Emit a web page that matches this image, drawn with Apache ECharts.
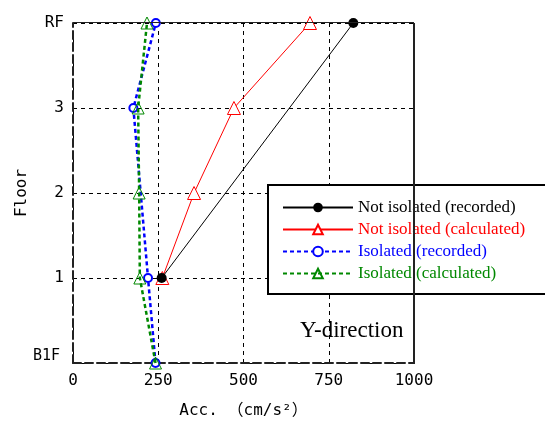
<!DOCTYPE html>
<html>
<head>
<meta charset="utf-8">
<script src="https://cdn.jsdelivr.net/npm/echarts@6/dist/echarts.min.js"></script>
<style>
  html, body { margin: 0; padding: 0; background: #fff; }
  #main { width: 545px; height: 426px; }
</style>
</head>
<body>
<div id="main"></div>
<script>
// floors, bottom to top
var floorLabels = ['B1F', '1', '2', '3', 'RF'];
// acceleration (cm/s2) per floor, null = not plotted
var notIsoRecorded = [null, 260, null, null, 822];
var notIsoCalculated = [null, 262, 355, 472, 695];
var isoRecorded = [242, 220, null, 177, 243];
var isoCalculated = [242, 196, 194, 191, 217];
var xTicks = [0, 250, 500, 750, 1000];

function pairs(vals) {
    var out = [];
    for (var i = 0; i < vals.length; i++) {
        if (vals[i] !== null) out.push([vals[i], i]);
    }
    return out;
}

var mycharts = echarts.init(document.getElementById('main'));
var gothic = '"DejaVu Sans Mono", "Noto Sans CJK JP", monospace';
var serif = '"Liberation Serif", "Times New Roman", serif';

var option = {
    animation: false,
    grid: { left: 73, right: 131, top: 23, bottom: 63, outerBoundsMode: 'none', containLabel: false },
    xAxis: {
        type: 'value',
        min: 0, max: 1000, interval: 250,
        name: 'Acc. （cm/s²）',
        nameLocation: 'middle',
        nameGap: 40,
        nameMoveOverlap: false,
        nameTextStyle: { fontFamily: gothic, fontSize: 16, color: '#000' },
        axisLine: { show: true, lineStyle: { color: '#222', width: 2, type: 'dashed' } },
        axisTick: { show: false },
        axisLabel: { fontFamily: gothic, fontSize: 16, color: '#000', margin: 10,
            formatter: function (v) { return xTicks.indexOf(v) >= 0 ? String(v) : ''; } },
        splitLine: { show: true, lineStyle: { color: '#000', type: [4, 4], width: 1 } }
    },
    yAxis: {
        type: 'value',
        min: 0, max: 4, interval: 1,
        name: 'Floor',
        nameLocation: 'middle',
        nameGap: 43,
        nameMoveOverlap: false,
        nameRotate: 90,
        nameTextStyle: { fontFamily: gothic, fontSize: 16, color: '#000' },
        axisLine: { show: true, lineStyle: { color: '#222', width: 2, type: 'dashed' } },
        axisTick: { show: false },
        axisLabel: { fontFamily: gothic, fontSize: 16, color: '#000', margin: 9,
            formatter: function (v) { return v === 0 ? '{b|' + floorLabels[v] + '}' : floorLabels[v]; },
            rich: { b: { fontFamily: gothic, fontSize: 15, color: '#000', padding: [0, 4, 14, 0] } } },
        splitLine: { show: true, lineStyle: { color: '#000', type: [4, 4], width: 1 } }
    },
    legend: {
        left: 268, top: 185,
        orient: 'vertical',
        itemWidth: 70, itemHeight: 12, itemGap: 5,
        padding: [14, 60, 12, 14],
        borderColor: '#000', borderWidth: 2,
        backgroundColor: '#fff',
        textStyle: { fontFamily: serif, fontSize: 17 },
        data: [
            { name: 'Not isolated (recorded)', textStyle: { color: '#000' } },
            { name: 'Not isolated (calculated)', textStyle: { color: '#f00' } },
            { name: 'Isolated (recorded)', textStyle: { color: '#00f' } },
            { name: 'Isolated (calculated)', textStyle: { color: '#080' } }
        ]
    },
    graphic: [{
        type: 'text', left: 300, top: 319,
        style: { text: 'Y-direction', font: '23px ' + serif, fill: '#000' },
        z: 10
    }, {
        type: 'rect', left: 73, top: 22, shape: { width: 341, height: 1 },
        style: { fill: '#222' }, z: 5
    }, {
        type: 'rect', left: 413, top: 23, shape: { width: 2, height: 341 },
        style: { fill: '#222' }, z: 5
    }],
    series: [
        {
            name: 'Not isolated (recorded)', type: 'line',
            data: pairs(notIsoRecorded),
            symbol: 'circle', symbolSize: 10,
            itemStyle: { color: '#000' },
            lineStyle: { color: '#000', width: 1 }, z: 4
        },
        {
            name: 'Not isolated (calculated)', type: 'line',
            data: pairs(notIsoCalculated),
            symbol: 'triangle', symbolSize: 13,
            itemStyle: { color: '#fff', borderColor: '#f00', borderWidth: 1 },
            lineStyle: { color: '#f00', width: 1 }, z: 3
        },
        {
            name: 'Isolated (recorded)', type: 'line',
            data: pairs(isoRecorded),
            symbol: 'emptyCircle', symbolSize: 8,
            itemStyle: { color: '#00f', borderColor: '#00f', borderWidth: 1 },
            lineStyle: { color: '#00f', width: 2.5, type: [4, 3] }, z: 2
        },
        {
            name: 'Isolated (calculated)', type: 'line',
            data: pairs(isoCalculated),
            symbol: 'triangle', symbolSize: 12,
            itemStyle: { color: 'rgba(255,255,255,0)', borderColor: '#080', borderWidth: 1 },
            lineStyle: { color: '#080', width: 2.5, type: [4, 3] }, z: 3
        }
    ]
};
mycharts.setOption(option);
</script>
</body>
</html>
